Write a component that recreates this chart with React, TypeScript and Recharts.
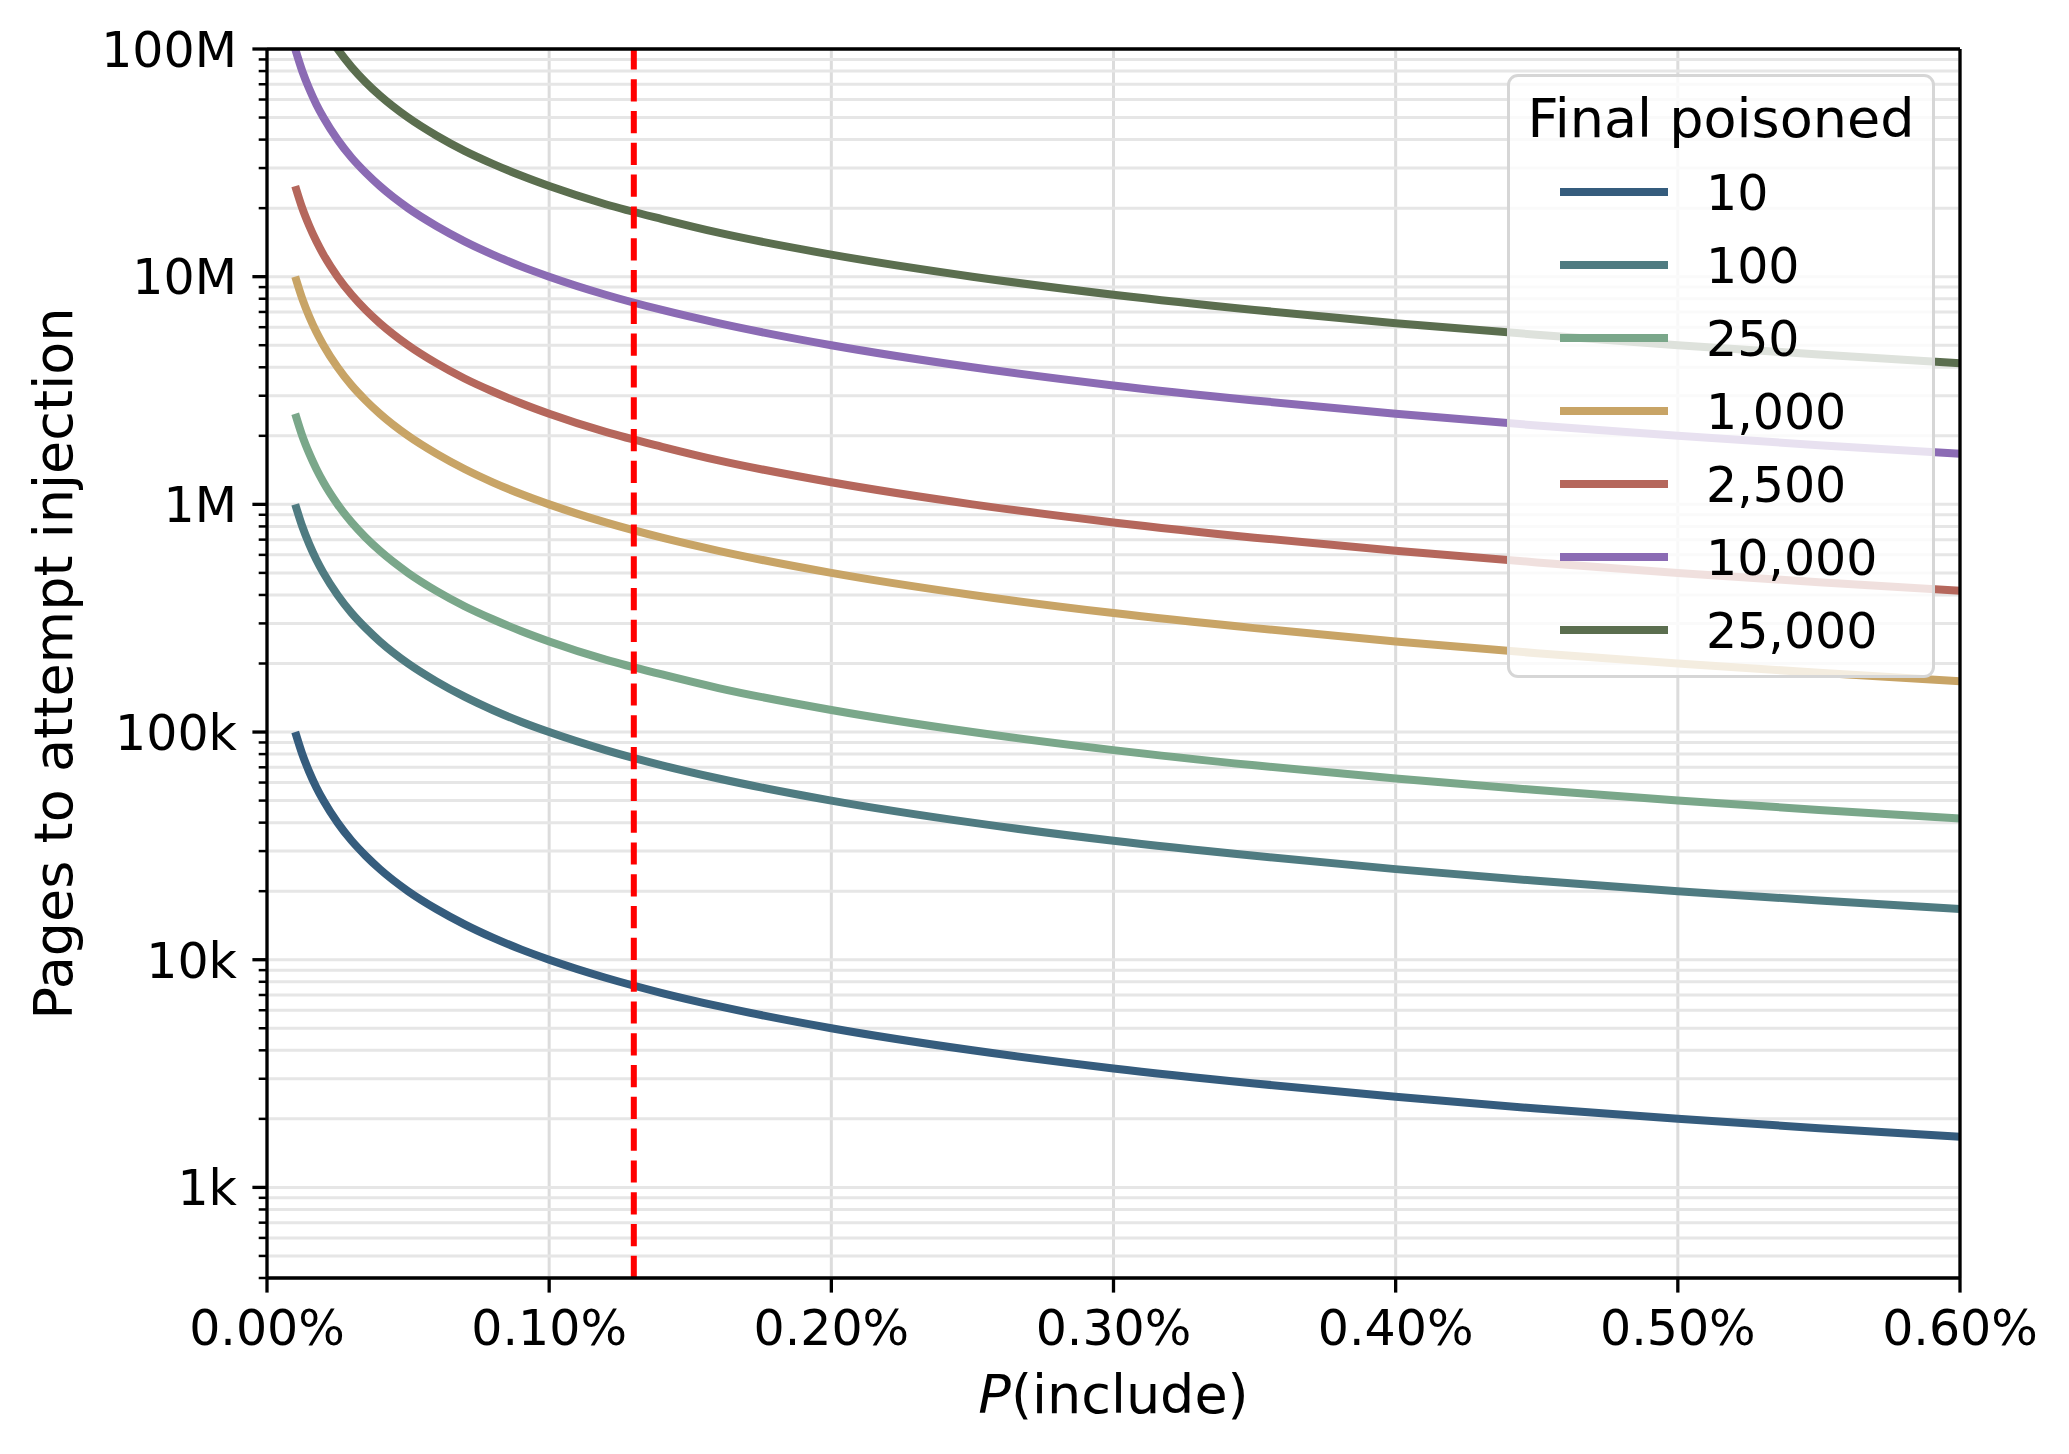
import React from 'react';
import {
  LineChart,
  Line,
  XAxis,
  YAxis,
  CartesianGrid,
  ReferenceLine,
  Legend,
  Label,
} from 'recharts';

// P(include) in percent
const P_INCLUDE = [
  0.01, 0.0125, 0.015, 0.0175, 0.02, 0.025, 0.03, 0.035, 0.04, 0.05, 0.06, 0.07,
  0.08, 0.09, 0.1, 0.12, 0.14, 0.16, 0.2, 0.25, 0.3, 0.35, 0.4, 0.45, 0.5, 0.55,
  0.6,
];

// pages to attempt injection, one list per "final poisoned" target
const POISON_10 = [
  100000, 80000, 66700, 57100, 50000, 40000, 33300, 28600, 25000, 20000, 16700,
  14300, 12500, 11100, 10000, 8330, 7140, 6250, 5000, 4000, 3330, 2860, 2500,
  2220, 2000, 1820, 1670,
];
const POISON_100 = [
  1000000, 800000, 667000, 571000, 500000, 400000, 333000, 286000, 250000,
  200000, 167000, 143000, 125000, 111000, 100000, 83300, 71400, 62500, 50000,
  40000, 33300, 28600, 25000, 22200, 20000, 18200, 16700,
];
const POISON_250 = [
  2500000, 2000000, 1670000, 1430000, 1250000, 1000000, 833000, 714000, 625000,
  500000, 417000, 357000, 313000, 278000, 250000, 208000, 179000, 156000,
  125000, 100000, 83300, 71400, 62500, 55600, 50000, 45500, 41700,
];
const POISON_1000 = [
  10000000, 8000000, 6670000, 5710000, 5000000, 4000000, 3330000, 2860000,
  2500000, 2000000, 1670000, 1430000, 1250000, 1110000, 1000000, 833000, 714000,
  625000, 500000, 400000, 333000, 286000, 250000, 222000, 200000, 182000,
  167000,
];
const POISON_2500 = [
  25000000, 20000000, 16700000, 14300000, 12500000, 10000000, 8330000, 7140000,
  6250000, 5000000, 4170000, 3570000, 3130000, 2780000, 2500000, 2080000,
  1790000, 1560000, 1250000, 1000000, 833000, 714000, 625000, 556000, 500000,
  455000, 417000,
];
const POISON_10000 = [
  100000000, 80000000, 66700000, 57100000, 50000000, 40000000, 33300000,
  28600000, 25000000, 20000000, 16700000, 14300000, 12500000, 11100000,
  10000000, 8330000, 7140000, 6250000, 5000000, 4000000, 3330000, 2860000,
  2500000, 2220000, 2000000, 1820000, 1670000,
];
const POISON_25000 = [
  250000000, 200000000, 167000000, 143000000, 125000000, 100000000, 83300000,
  71400000, 62500000, 50000000, 41700000, 35700000, 31300000, 27800000,
  25000000, 20800000, 17900000, 15600000, 12500000, 10000000, 8330000, 7140000,
  6250000, 5560000, 5000000, 4550000, 4170000,
];

const SERIES_NAMES = ['10', '100', '250', '1,000', '2,500', '10,000', '25,000'];
const SERIES_VALUES = [
  POISON_10,
  POISON_100,
  POISON_250,
  POISON_1000,
  POISON_2500,
  POISON_10000,
  POISON_25000,
];
const COLORS = [
  '#355c7d',
  '#4f7b81',
  '#7aa78a',
  '#c8a466',
  '#b5675c',
  '#8b6bb4',
  '#5b6e4f',
];

const X_TICKS = [0, 0.1, 0.2, 0.3, 0.4, 0.5, 0.6];
const Y_MAJOR = [1e3, 1e4, 1e5, 1e6, 1e7, 1e8];
const Y_MAJOR_LABELS = ['1k', '10k', '100k', '1M', '10M', '100M'];
const Y_MINOR_STEPS = [2, 3, 4, 5, 6, 7, 8, 9];
const THRESHOLD = 0.13;

const Y_TICKS = [400, 500, 600, 700, 800, 900];
[1e3, 1e4, 1e5, 1e6, 1e7].forEach((d) => {
  Y_TICKS.push(d);
  Y_MINOR_STEPS.forEach((s) => Y_TICKS.push(d * s));
});
Y_TICKS.push(1e8);

const FONT = '"DejaVu Sans", sans-serif';
const TICK_FONT = 49;
const LABEL_FONT = 54;

const chartData = P_INCLUDE.map((p, i) => {
  const row: Record<string, number> = { p };
  SERIES_NAMES.forEach((name, k) => {
    row[name] = SERIES_VALUES[k][i];
  });
  return row;
});

const YTick = (props: any) => {
  const { x, y, payload } = props;
  const idx = Y_MAJOR.indexOf(payload.value);
  const major = idx >= 0;
  return (
    <g>
      <line
        x1={x - (major ? 14.6 : 8.3)}
        x2={x}
        y1={y}
        y2={y}
        stroke="#000"
        strokeWidth={major ? 3.3 : 2.5}
      />
      {major && (
        <text
          x={x - 30}
          y={y + 17.8}
          textAnchor="end"
          fontSize={TICK_FONT}
          fill="#000"
        >
          {Y_MAJOR_LABELS[idx]}
        </text>
      )}
    </g>
  );
};

const XTick = (props: any) => {
  const { x, y, payload } = props;
  return (
    <text x={x} y={y + 52} textAnchor="middle" fontSize={TICK_FONT} fill="#000">
      {`${Number(payload.value).toFixed(2)}%`}
    </text>
  );
};

const renderLegend = () => (
  <div
    style={{
      width: 428,
      height: 604,
      boxSizing: 'border-box',
      border: '3px solid #d6d6d6',
      borderRadius: 11,
      background: 'rgba(255,255,255,0.8)',
      position: 'relative',
    }}
  >
    <svg
      width={428}
      height={604}
      style={{ position: 'absolute', left: -3, top: -3 }}
    >
      <text x={214} y={63} textAnchor="middle" fontSize={LABEL_FONT} fill="#000">
        Final poisoned
      </text>
      {SERIES_NAMES.map((name, i) => (
        <g key={name}>
          <line
            x1={53}
            x2={161}
            y1={118 + i * 73}
            y2={118 + i * 73}
            stroke={COLORS[i]}
            strokeWidth={8}
          />
          <text x={199} y={118 + i * 73 + 17.8} fontSize={TICK_FONT} fill="#000">
            {name}
          </text>
        </g>
      ))}
    </svg>
  </div>
);

export default function App() {
  return (
    <div
      style={{
        position: 'absolute',
        left: 0,
        top: 0,
        width: 2069,
        height: 1454,
        background: '#fff',
        fontFamily: FONT,
      }}
    >
      <LineChart
        width={2069}
        height={1454}
        data={chartData}
        margin={{ top: 49, right: 109, bottom: 76, left: 67 }}
      >
        <CartesianGrid
          horizontal={false}
          stroke="#dcdcdc"
          strokeWidth={3}
        />
        <CartesianGrid vertical={false} stroke="#e6e6e6" strokeWidth={3} />
        <XAxis
          dataKey="p"
          type="number"
          domain={[0, 0.6]}
          ticks={X_TICKS}
          interval={0}
          height={100}
          tickSize={14.6}
          tickMargin={0}
          tickLine={{ stroke: '#000', strokeWidth: 3.3 }}
          axisLine={{ stroke: '#000', strokeWidth: 3.3 }}
          tick={XTick}
        >
          <Label
            content={() => (
              <text
                x={1113.5}
                y={1413}
                textAnchor="middle"
                fontSize={LABEL_FONT}
                fill="#000"
              >
                <tspan fontStyle="italic">P</tspan>(include)
              </text>
            )}
          />
        </XAxis>
        <YAxis
          scale="log"
          type="number"
          domain={[400, 1e8]}
          allowDataOverflow
          ticks={Y_TICKS}
          interval={0}
          width={200}
          tickSize={0}
          tickMargin={0}
          tickLine={false}
          axisLine={{ stroke: '#000', strokeWidth: 3.3 }}
          tick={YTick}
        >
          <Label
            content={() => (
              <text
                transform="translate(72, 663.5) rotate(-90)"
                textAnchor="middle"
                fontSize={LABEL_FONT}
                fill="#000"
              >
                Pages to attempt injection
              </text>
            )}
          />
        </YAxis>
        {SERIES_NAMES.map((name, i) => (
          <Line
            key={name}
            dataKey={name}
            name={name}
            type="monotone"
            stroke={COLORS[i]}
            strokeWidth={8}
            dot={false}
            activeDot={false}
            isAnimationActive={false}
          />
        ))}
        <ReferenceLine
          x={THRESHOLD}
          stroke="#ff0000"
          strokeWidth={6}
          strokeDasharray="22.2 9.6"
        />
        <ReferenceLine y={1e8} stroke="#000" strokeWidth={3.3} />
        <ReferenceLine x={0.6} stroke="#000" strokeWidth={3.3} />
        <Legend
          layout="vertical"
          align="center"
          verticalAlign="middle"
          content={renderLegend}
          wrapperStyle={{ left: 1507, top: 73.5, width: 428, height: 604 }}
        />
      </LineChart>
    </div>
  );
}
